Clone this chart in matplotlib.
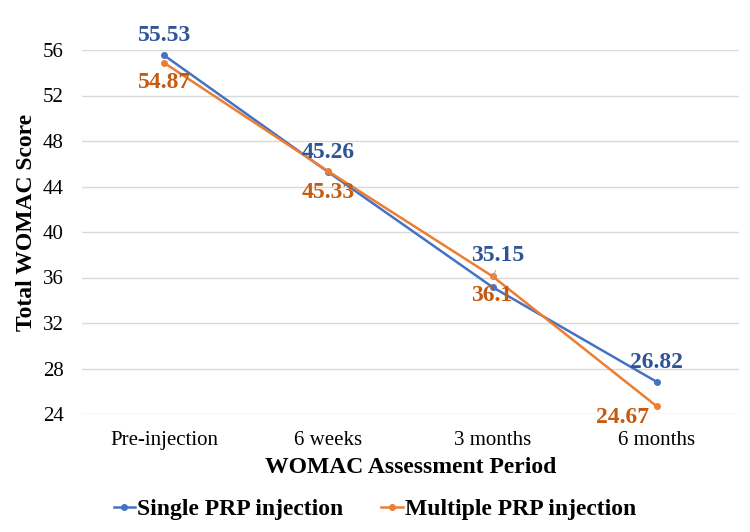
import matplotlib
matplotlib.use("Agg")
import matplotlib.pyplot as plt

periods = ["Pre-injection", "6 weeks", "3 months", "6 months"]
single = [55.53, 45.26, 35.15, 26.82]
multiple = [54.87, 45.33, 36.1, 24.67]
yticks = [24, 28, 32, 36, 40, 44, 48, 52, 56]

plt.rcParams['font.family'] = ['Liberation Serif', 'DejaVu Serif']

blue = "#4472C4"
orange = "#ED7D31"
blue_lab = "#2F5597"
orange_lab = "#C55A11"

fig = plt.figure(figsize=(7.5, 5.32), dpi=100)
ax = fig.add_axes([82/750, 1-414/532, (739-82)/750, (414-50)/532])

x = list(range(len(periods)))
ax.plot(x, single, color=blue, lw=1.8, marker='o', ms=4, label="Single PRP injection", clip_on=False, zorder=3)
ax.plot(x, multiple, color=orange, lw=1.8, marker='o', ms=4, label="Multiple PRP injection", clip_on=False, zorder=3)

ax.set_xlim(-0.5, 3.5)
ax.set_ylim(24, 56)
ax.set_yticks(yticks)
ax.set_xticks(x)
ax.set_xticklabels(periods, fontsize=15)
ax.tick_params(axis='y', labelsize=15, length=0, pad=13)
ax.tick_params(axis='x', length=0, pad=12)
ax.grid(axis='y', color='#D9D9D9', lw=1)
ax.set_axisbelow(True)
for s in ax.spines.values():
    s.set_visible(False)

ax.set_xlabel("WOMAC Assessment Period", fontsize=17, fontweight='bold', labelpad=5)
ax.set_ylabel("Total WOMAC Score", fontsize=17, fontweight='bold', va='center')
ax.yaxis.set_label_coords((27 - 82) / 657, (414 - 222) / 364)

# data labels (offsets in points)
s_off = [(0, 14), (0, 14), (4, 23), (0, 14)]
m_off = [(0, -14.5), (0, -15), (-1, -14), (-24.5, -8)]
for i in x:
    ax.annotate(f"{single[i]:g}", (i, single[i]), xytext=s_off[i], textcoords='offset points',
                ha='center', va='center', fontsize=17, fontweight='bold', color=blue_lab)
    ax.annotate(f"{multiple[i]:g}", (i, multiple[i]), xytext=m_off[i], textcoords='offset points',
                ha='center', va='center', fontsize=17, fontweight='bold', color=orange_lab)
# leader line for 3 months single label
ax.annotate("", (1.995, 35.7), xytext=(2.024, 36.84),
            arrowprops=dict(arrowstyle='-', color='#A6A6A6', lw=0.8))

leg = fig.legend(loc='center', bbox_to_anchor=(0.5, 1-509/532), ncol=2, frameon=False,
                 prop={'weight': 'bold', 'size': 17}, handlelength=0.9, columnspacing=1.6,
                 handletextpad=0.1)

fig.savefig("out.png", dpi=100)
